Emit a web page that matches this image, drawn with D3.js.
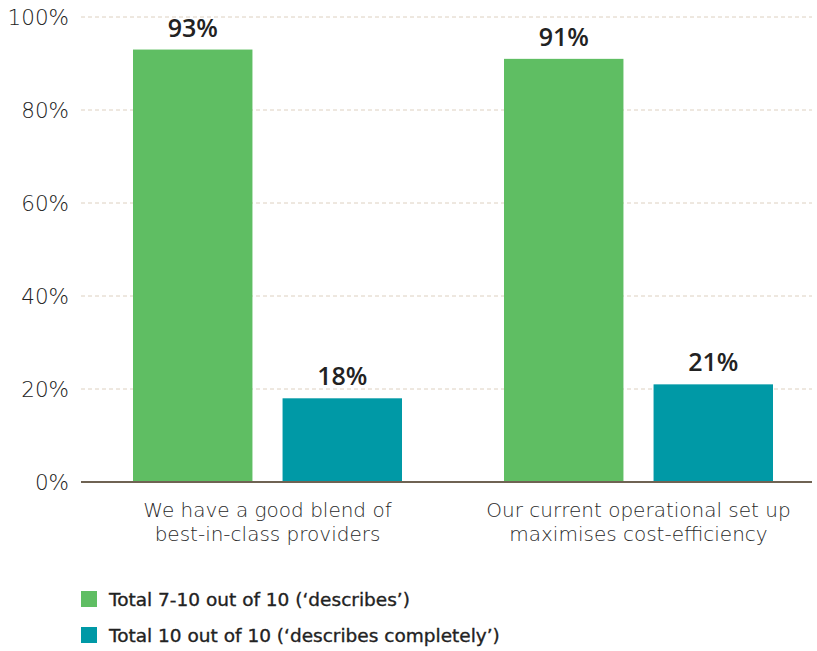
<!DOCTYPE html>
<html>
<head>
<meta charset="utf-8">
<script src="https://cdn.jsdelivr.net/npm/d3@7"></script>
<style>
  html, body { margin: 0; padding: 0; background: #fff; }
  svg { display: block; }
</style>
</head>
<body>
<svg id="chart" width="817" height="651"></svg>
<script>
// Statements rated by respondents
const categories = [
  ["We have a good blend of", "best-in-class providers"],
  ["Our current operational set up", "maximises cost-efficiency"]
];
const seriesNames = [
  "Total 7-10 out of 10 (\u2018describes\u2019)",
  "Total 10 out of 10 (\u2018describes completely\u2019)"
];
const describes = [93, 91];
const describesCompletely = [18, 21];
const yTicks = [0, 20, 40, 60, 80, 100];
const colors = ["#5fbe63", "#0099a6"];

const svg = d3.select("#chart");
const lightFont = "'DejaVu Sans', sans-serif";
const boldFont = "'Open Sans', 'DejaVu Sans', sans-serif";

const y = d3.scaleLinear().domain([0, 100]).range([482, 17]);
const x0 = d3.scaleBand().domain(d3.range(categories.length)).range([82, 824]);
const x1 = d3.scaleBand().domain([0, 1]).range([51, 320]).paddingInner(30 / 149);

// gridlines
svg.append("g").selectAll("line").data(yTicks.filter(d => d > 0)).join("line")
  .attr("x1", 81).attr("x2", 812)
  .attr("y1", d => y(d)).attr("y2", d => y(d))
  .attr("stroke", "#ddd0c0").attr("stroke-width", 1).attr("stroke-dasharray", "4,3");

// y tick labels
svg.append("g").selectAll("text").data(yTicks).join("text")
  .attr("x", 69).attr("y", d => y(d))
  .attr("dy", "0.36em")
  .attr("text-anchor", "end")
  .attr("font-family", lightFont).attr("font-size", 21.5).attr("font-weight", 200)
  .attr("fill", "#222")
  .text(d => d + "%");

const series = [describes, describesCompletely];
const groups = svg.append("g").selectAll("g").data(categories).join("g")
  .attr("transform", (d, i) => `translate(${x0(i)},0)`);

groups.each(function(cat, ci) {
  const g = d3.select(this);
  series.forEach((vals, si) => {
    const v = vals[ci];
    g.append("rect")
      .attr("x", x1(si)).attr("width", x1.bandwidth())
      .attr("y", y(v)).attr("height", y(0) - y(v))
      .attr("fill", colors[si]);
    g.append("text")
      .attr("x", x1(si) + x1.bandwidth() / 2)
      .attr("y", y(v) - 13)
      .attr("text-anchor", "middle")
      .attr("font-family", boldFont).attr("font-size", 25).attr("font-weight", 600)
      .attr("fill", "#222")
      .text(v + "%");
  });
  const t = g.append("text")
    .attr("text-anchor", "middle")
    .attr("font-family", lightFont).attr("font-size", 20).attr("font-weight", 200)
    .attr("fill", "#2a2a2a");
  cat.forEach((line, li) => {
    t.append("tspan").attr("x", x0.bandwidth() / 2).attr("y", 517 + li * 24).text(line);
  });
});

// baseline axis
svg.append("line")
  .attr("x1", 81).attr("x2", 812).attr("y1", y(0)).attr("y2", y(0))
  .attr("stroke", "#6f6353").attr("stroke-width", 2);

// legend
const legend = svg.append("g").selectAll("g").data(seriesNames).join("g")
  .attr("transform", (d, i) => `translate(81,${591 + i * 36})`);
legend.append("rect").attr("width", 16).attr("height", 16).attr("fill", (d, i) => colors[i]);
legend.append("text")
  .attr("x", 28).attr("y", 15)
  .attr("font-family", lightFont).attr("font-size", 18.5).attr("font-weight", 400)
  .attr("fill", "#222").attr("stroke", "#222").attr("stroke-width", 0.35)
  .text(d => d);
</script>
</body>
</html>
